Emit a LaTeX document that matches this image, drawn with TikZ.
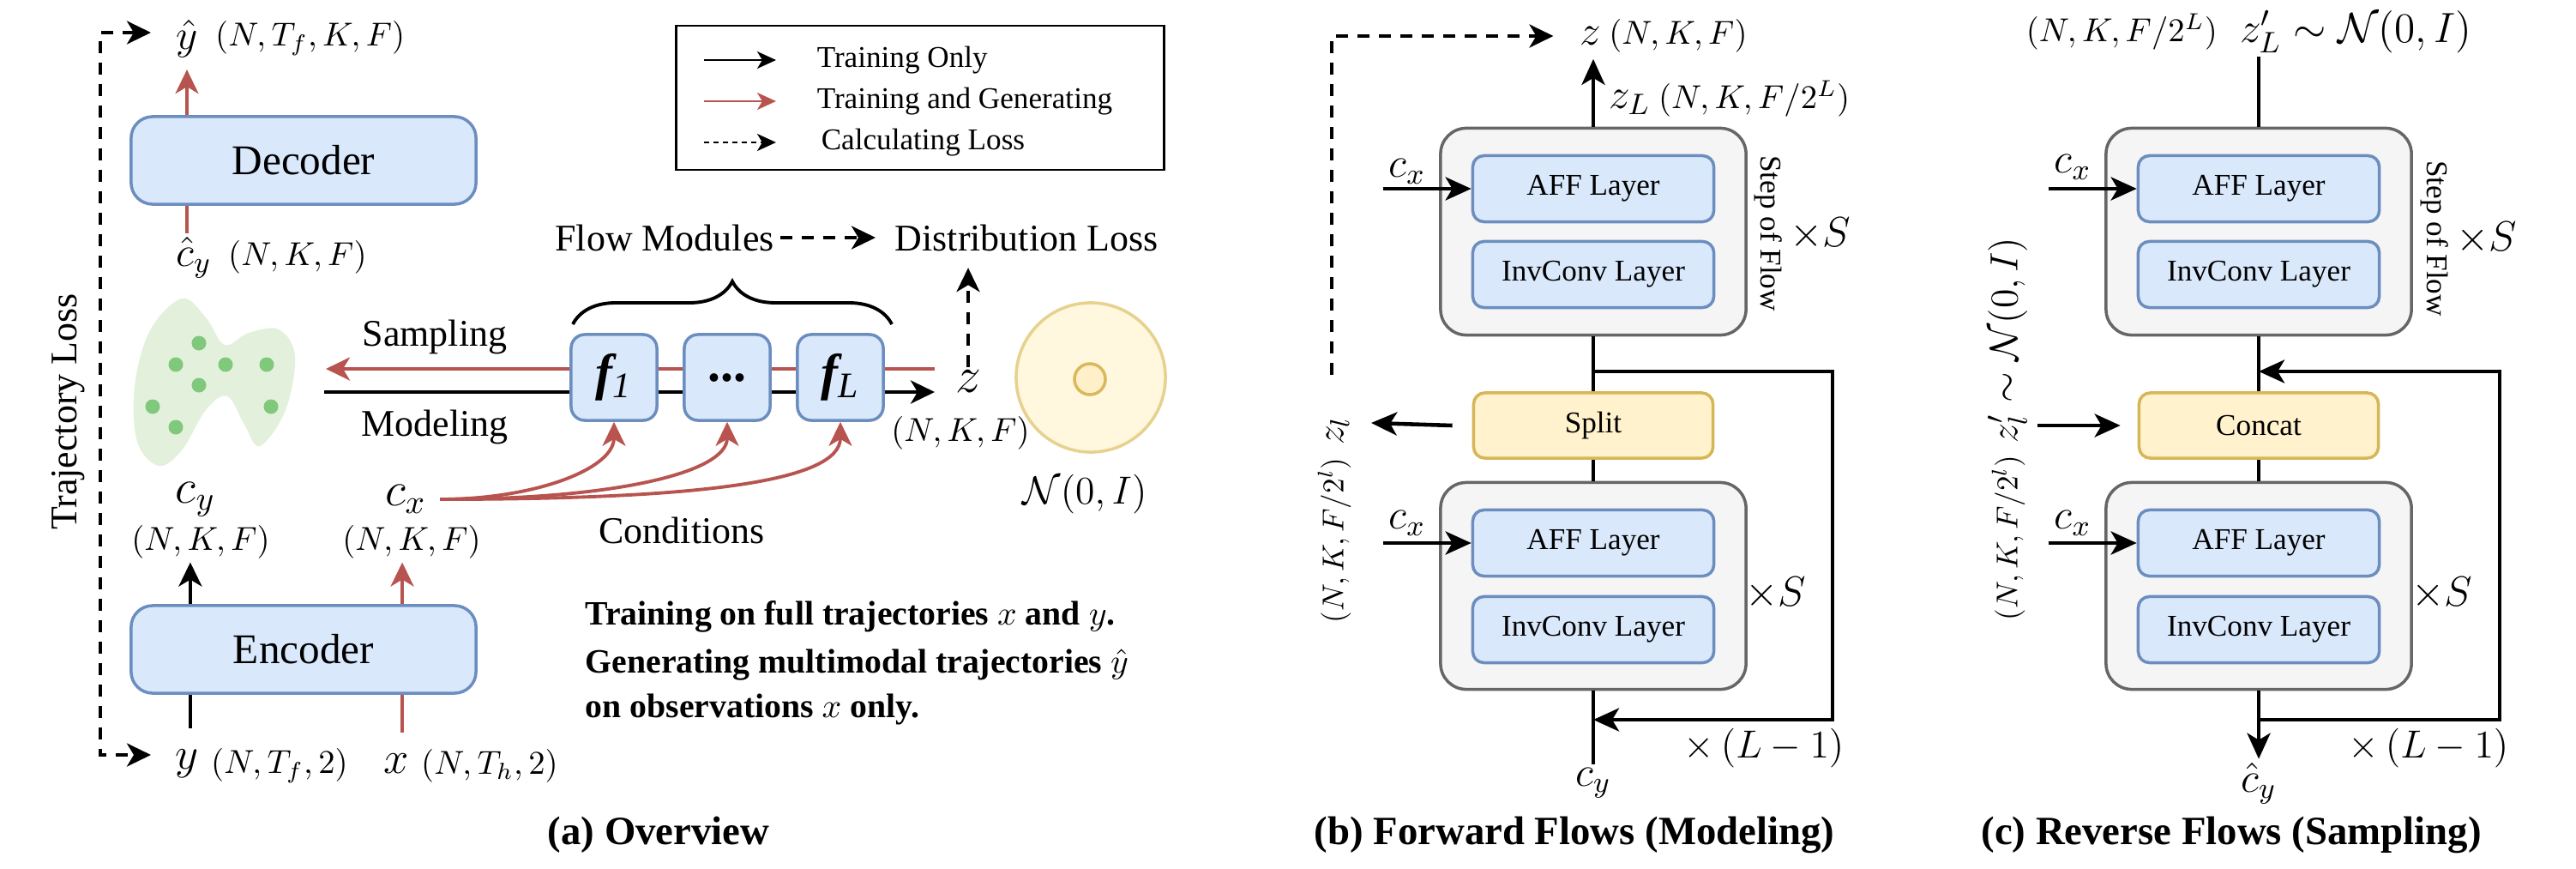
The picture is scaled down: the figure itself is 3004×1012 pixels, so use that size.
\RequirePackage{fix-cm}
\documentclass[tikz,border=0pt]{standalone}
\usepackage{fontspec}
\setmainfont{Liberation Serif}
\usetikzlibrary{arrows.meta,decorations.pathreplacing,calc}

\newcommand{\fsize}[1]{\fontsize{#1}{#1}\selectfont}

\definecolor{blueFill}{HTML}{DAE8FC}
\definecolor{blueLine}{HTML}{6C8EBF}
\definecolor{yellowFill}{HTML}{FFF2CC}
\definecolor{yellowLine}{HTML}{D6B656}
\definecolor{grayFill}{HTML}{F5F5F5}
\definecolor{grayLine}{HTML}{666666}
\definecolor{redLine}{HTML}{B85450}
\definecolor{blobFill}{HTML}{E3F1DC}
\definecolor{dotFill}{HTML}{80C87C}
\definecolor{gaussFill}{HTML}{FFF7DE}
\definecolor{gaussLine}{HTML}{E6D28E}
\definecolor{meanFill}{HTML}{FFF0C9}
\definecolor{meanLine}{HTML}{D9B95C}

\tikzset{
  module/.style={draw=blueLine, fill=blueFill, line width=1pt, inner sep=0pt},
  bigbox/.style={module, rounded corners=0.25cm, minimum width=4.02cm, minimum height=1.02cm, font=\fsize{14}},
  flowbox/.style={module, rounded corners=0.16cm, minimum width=1cm, minimum height=1cm, font=\fsize{17}},
  layer/.style={module, rounded corners=0.13cm, minimum width=2.81cm, minimum height=0.77cm, font=\fsize{10}},
  stepbox/.style={draw=grayLine, fill=grayFill, line width=1pt, rounded corners=0.3cm, minimum width=3.56cm, minimum height=2.41cm},
  joinbox/.style={draw=yellowLine, fill=yellowFill, line width=1pt, rounded corners=0.13cm, minimum width=2.79cm, minimum height=0.76cm, font=\fsize{10}},
  txt/.style={font=\fsize{12.5}, inner sep=2pt},
  legtxt/.style={font=\fsize{10}, inner sep=2pt, anchor=west},
  symb/.style={font=\fsize{15}, inner sep=1pt},
  dimlbl/.style={font=\fsize{11}, inner sep=1pt},
  captxt/.style={font=\fsize{13.3}\bfseries, inner sep=2pt},
  steptxt/.style={font=\fsize{10}, inner sep=2pt, rotate=-90},
  flowline/.style={line width=1.3pt},
  blackarr/.style={line width=1.3pt, -{Stealth[length=0.3cm, width=0.27cm, inset=0.08cm]}},
  thinarr/.style={line width=1.1pt, -{Stealth[length=0.28cm, width=0.27cm, inset=0.08cm]}},
  redarr/.style={thinarr, draw=redLine},
  lossarr/.style={line width=1.1pt, dash pattern=on 0.14cm off 0.11cm},
  legarr/.style={line width=0.7pt, -{Stealth[length=0.22cm, width=0.2cm, inset=0.06cm]}}
}

\begin{document}
\begin{tikzpicture}[x=0.01cm, y=-0.01cm]
\useasboundingbox (0,0) rectangle (3004,1012);

\fill [blobFill] plot [smooth cycle, tension=0.6] coordinates {(212,348) (175,385) (157,450) (160,515) (185,543) (212,525) (240,478) (265,462) (285,495) (303,520) (333,478) (344,415) (325,384) (290,388) (262,402) (240,370)};
\foreach \px/\py in {232/400, 205/425, 263/425, 311/425, 232/449, 178/474, 316/474, 205/498}
  \fill [dotFill] (\px,\py) circle (0.085cm);

\node [bigbox] (dec) at (354,187) {Decoder};
\node [bigbox] (enc) at (354,757) {Encoder};

\node [symb, font=\fsize{14}] (yhat) at (218,45) {$\hat{y}$};
\node [dimlbl, anchor=west] (yhatdim) at (247,45) {$(N,T_f,K,F)$};
\node [symb, font=\fsize{14}] (chat) at (226,300) {$\hat{c}_y$};
\node [dimlbl, anchor=west] (chatdim) at (262,300) {$(N,K,F)$};
\draw [redarr, shorten >=0.1cm] (dec.north -| yhat) -- (yhat.south);
\draw [redLine, line width=1.1pt] (dec.south -| yhat) -- (yhat |- chat.north);

\node [symb, font=\fsize{16}] (cy) at (228,582) {$c_y$};
\node [dimlbl] (cydim) at (234,632) {$(N,K,F)$};
\node [symb, font=\fsize{16}] (cx) at (473,582) {$c_x$};
\node [dimlbl] (cxdim) at (480,632) {$(N,K,F)$};
\draw [thinarr] ([xshift=-1.32cm]enc.north) -- ([xshift=-1.32cm]enc.north |- cydim.south);
\draw [redarr] ([xshift=1.15cm]enc.north) -- ([xshift=1.15cm]enc.north |- cxdim.south);

\node [symb] (yin) at (218,890) {$y$};
\node [dimlbl, anchor=west] (yindim) at (242,893) {$(N,T_f,2)$};
\node [symb] (xin) at (462,890) {$x$};
\node [dimlbl, anchor=west] (xindim) at (487,893) {$(N,T_h,2)$};
\draw [line width=1.1pt, shorten >=0.2cm] ([xshift=-1.32cm]enc.south) -- ([xshift=-1.32cm]enc.south |- yin.north);
\draw [redLine, line width=1.1pt, shorten >=0.2cm] ([xshift=1.15cm]enc.south) -- ([xshift=1.15cm]enc.south |- xin.north);

\coordinate (lossTop) at (176,38);
\coordinate (lossBot) at (176,880);
\draw [lossarr, {Stealth[length=0.28cm, width=0.27cm, inset=0.08cm]}-{Stealth[length=0.28cm, width=0.27cm, inset=0.08cm]}] (lossTop) -- ++(-59,0) |- (lossBot);
\node [txt, rotate=90] (trajloss) at (80,480) {Trajectory Loss};

\coordinate (sampTip) at (380,430);
\coordinate (flowOutR) at (1090,430);
\coordinate (modStart) at (378,457);
\coordinate (modTip) at (1090,457);
\draw [redarr] (flowOutR) -- (sampTip);
\draw [thinarr, line width=1.2pt] (modStart) -- (modTip);
\node [txt] (samp) at (507,393) {Sampling};
\node [txt] (model) at (507,498) {Modeling};

\node [flowbox] (f1) at (716,440) {{\bfseries\itshape f}\textsubscript{\itshape 1}};
\node [flowbox] (fdots) at (848,440) {\bfseries ...};
\node [flowbox] (fL) at (980,440) {{\bfseries\itshape f}\textsubscript{\itshape L}};

\coordinate (braceL) at (668,378);
\coordinate (braceR) at (1040,378);
\draw [line width=1.1pt, decorate, decoration={brace, amplitude=0.5cm}] (braceL) -- (braceR);
\node [txt] (flowmod) at (775,277) {Flow Modules};
\node [txt] (distloss) at (1197,277) {Distribution Loss};
\draw [lossarr, -{Stealth[length=0.28cm, width=0.27cm, inset=0.08cm]}, shorten >=0.15cm] (flowmod) -- (distloss);

\node [symb, font=\fsize{17}] (zout) at (1129,445) {$z$};
\node [dimlbl] (zdim) at (1120,505) {$(N,K,F)$};
\draw [lossarr, -{Stealth[length=0.28cm, width=0.27cm, inset=0.08cm]}, shorten >=0.12cm] (zout) -- (distloss.south -| zout);

\node [circle, draw=gaussLine, fill=gaussFill, line width=1pt, minimum size=1.74cm, inner sep=0pt] (gauss) at (1272,440) {};
\node [circle, draw=meanLine, fill=meanFill, line width=1pt, minimum size=0.36cm, inner sep=0pt] (mean) at (1271,442) {};
\node [symb, font=\fsize{13}] (gausslbl) at (1265,576) {$\mathcal{N}(0,I)$};

\node [txt] (cond) at (795,618) {Conditions};
\draw [redarr] ([xshift=0.12cm]cx.east) .. controls +(110,0) and +(0,55) .. (f1.south);
\draw [redarr] ([xshift=0.12cm]cx.east) .. controls +(200,0) and +(0,60) .. (fdots.south);
\draw [redarr] ([xshift=0.12cm]cx.east) .. controls +(300,0) and +(0,70) .. (fL.south);

\node [draw, line width=0.8pt, minimum width=5.69cm, minimum height=1.68cm] (legend) at (1073,114) {};
\node [legtxt] (legA) at (945,70) {Training Only};
\node [legtxt] (legB) at (945,118) {Training and Generating};
\node [legtxt] (legC) at (950,166) {Calculating Loss};
\draw [legarr] ([xshift=-1.24cm]legA.west) -- ([xshift=-0.4cm]legA.west);
\draw [legarr, draw=redLine] ([xshift=-1.24cm]legB.west) -- ([xshift=-0.4cm]legB.west);
\draw [legarr, dash pattern=on 0.06cm off 0.05cm] ([xshift=-1.29cm]legC.west) -- ([xshift=-0.45cm]legC.west);

\node [anchor=west, align=left, font=\fsize{11.3}\bfseries, inner sep=0pt] (note) at (682,773) {Training on full trajectories $x$ and $y$.\\[4.5pt]Generating multimodal trajectories $\hat{y}$\\[3.5pt]on observations $x$ only.};

\node [captxt] (capA) at (768,973) {(a) Overview};

\node [stepbox] (stepA) at (1858,270) {};
\node [layer] (affA) at (1858,220) {AFF Layer};
\node [layer] (invA) at (1858,320) {InvConv Layer};
\node [joinbox] (split) at (1858,496) {Split};
\node [stepbox] (stepB) at (1858,683) {};
\node [layer] (affB) at (1858,633) {AFF Layer};
\node [layer] (invB) at (1858,734) {InvConv Layer};

\node [symb, font=\fsize{14}] (zfin) at (1855,42) {$z$};
\node [dimlbl, anchor=west] (zfindim) at (1872,42) {$(N,K,F)$};
\draw [blackarr, shorten >=0.12cm] (stepA.north) -- (stepA.north |- zfin.south);
\node [dimlbl, anchor=west] (zL) at (1872,115) {{\fsize{14}$z_L$}\ $(N,K,F/2^L)$};
\coordinate (dashStart) at (1553,437);
\draw [lossarr, -{Stealth[length=0.28cm, width=0.27cm, inset=0.08cm]}] (dashStart) |- ([xshift=-0.27cm]zfin.west);

\node [symb, font=\fsize{14}] (cxA) at (1641,200) {$c_x$};
\draw [blackarr] ([xshift=-1.03cm]affA.west) -- (affA.west);
\node [steptxt] (sofA) at (2062,272) {Step of Flow};
\node [symb, font=\fsize{14}] (repA) at (2123,273) {$\times S$};

\draw [flowline] (stepA.south) -- (split.north);
\draw [flowline] (split.south) -- (stepB.north);
\node [symb, font=\fsize{14}] (cyB) at (1858,913) {$c_y$};
\draw [flowline] (stepB.south) -- (cyB.north);
\coordinate (loopTopB) at (1858,433);
\coordinate (loopBotB) at (1858,839);
\draw [blackarr] (loopTopB) -- ++(279,0) |- (loopBotB);
\node [dimlbl, font=\fsize{13}] (repLB) at (2057,872) {$\times\,(L-1)$};

\node [dimlbl, font=\fsize{10}, rotate=90] (zlB) at (1556,606) {$(N,K,F/2^l)$\ \,{\fsize{13}$z_l$}};
\coordinate (zlTip) at (1599,493);
\draw [blackarr] ([xshift=-0.23cm]split.west) -- (zlTip);

\node [symb, font=\fsize{14}] (cxB) at (1641,610) {$c_x$};
\draw [blackarr] ([xshift=-1.03cm]affB.west) -- (affB.west);
\node [symb, font=\fsize{14}] (repB) at (2071,692) {$\times S$};

\node [captxt] (capB) at (1836,973) {(b) Forward Flows (Modeling)};

\node [stepbox] (stepC) at (2634,270) {};
\node [layer] (affC) at (2634,220) {AFF Layer};
\node [layer] (invC) at (2634,320) {InvConv Layer};
\node [joinbox] (concat) at (2634,496) {Concat};
\node [stepbox] (stepD) at (2634,683) {};
\node [layer] (affD) at (2634,633) {AFF Layer};
\node [layer] (invD) at (2634,734) {InvConv Layer};

\node [symb, font=\fsize{14}, anchor=west] (zprior) at (2608,37) {$z'_L\sim\mathcal{N}(0,I)$};
\node [dimlbl, anchor=east] (zpriordim) at (2590,37) {$(N,K,F/2^L)$};
\draw [flowline] (stepC.north) -- (stepC.north |- zprior.south);

\node [symb, font=\fsize{14}] (cxC) at (2417,195) {$c_x$};
\draw [blackarr] ([xshift=-1.03cm]affC.west) -- (affC.west);
\node [steptxt] (sofC) at (2839,278) {Step of Flow};
\node [symb, font=\fsize{14}] (repC) at (2900,278) {$\times S$};

\draw [flowline] (stepC.south) -- (concat.north);
\draw [flowline] (concat.south) -- (stepD.north);
\node [symb, font=\fsize{14}] (chatD) at (2634,913) {$\hat{c}_y$};
\draw [blackarr] (stepD.south) -- (chatD.north);
\coordinate (loopBotC) at (2634,839);
\coordinate (loopTopC) at (2634,433);
\draw [blackarr] (loopBotC) -- ++(281,0) |- (loopTopC);
\node [dimlbl, font=\fsize{13}] (repLD) at (2832,872) {$\times\,(L-1)$};

\node [dimlbl, font=\fsize{10}, rotate=90] (zlC) at (2341,500) {$(N,K,F/2^l)$\ \,{\fsize{13}$z'_l\sim\mathcal{N}(0,I)$}};
\draw [blackarr] ([xshift=-1.17cm]concat.west) -- ([xshift=-0.2cm]concat.west);

\node [symb, font=\fsize{14}] (cxD) at (2417,610) {$c_x$};
\draw [blackarr] ([xshift=-1.03cm]affD.west) -- (affD.west);
\node [symb, font=\fsize{14}] (repD) at (2848,692) {$\times S$};

\node [captxt] (capC) at (2602,973) {(c) Reverse Flows (Sampling)};
\end{tikzpicture}
\end{document}
